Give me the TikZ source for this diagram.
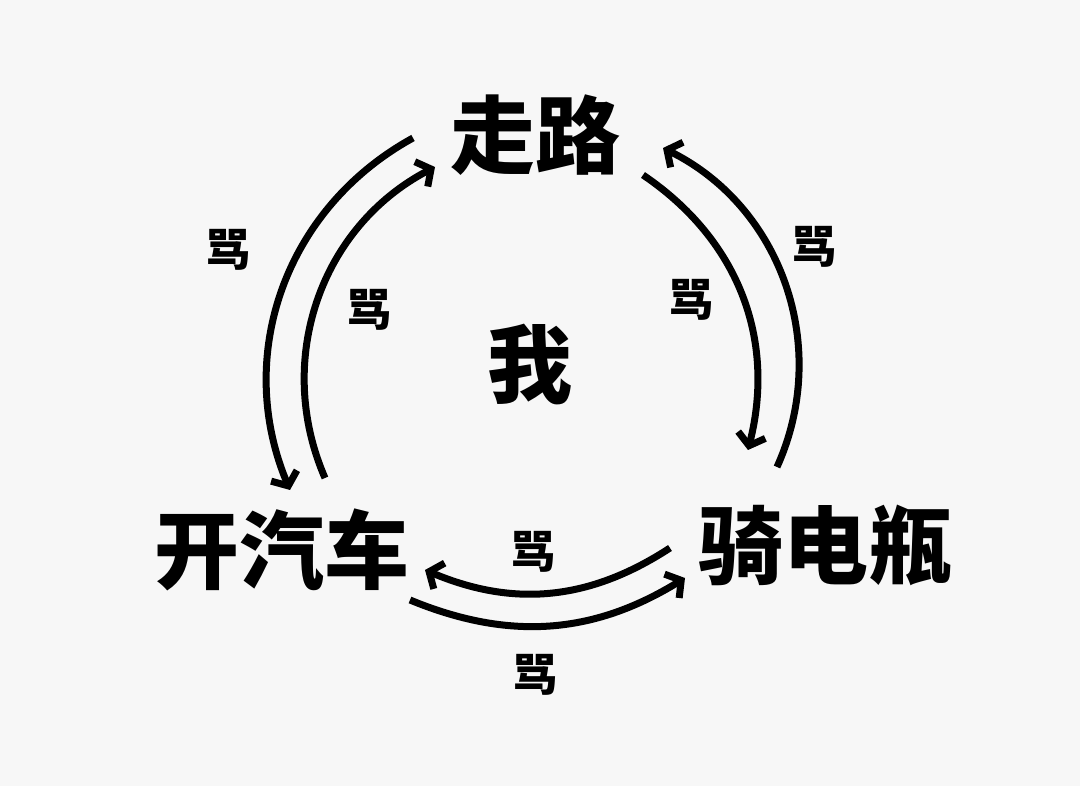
\documentclass[tikz,border=0pt]{standalone}
\usepackage{fontspec}
\newfontfamily\cjk{Noto Sans CJK SC}[BoldFont={Noto Sans CJK SC Black}]
\usetikzlibrary{arrows.meta}
\begin{document}
\begin{tikzpicture}[x=1pt, y=1pt,
      big/.style={font=\cjk\bfseries\fontsize{85}{90}\selectfont, inner sep=0pt},
      ma/.style={font=\cjk\bfseries\fontsize{45}{50}\selectfont, inner sep=0pt},
      arr/.style={-{Straight Barb[length=11pt, width=28pt]}, line width=7pt}]
    \fill[black!3] (0,0) rectangle (1080,786);
    \useasboundingbox (0,0) rectangle (1080,786);
    \node[big] (walk) at (535,651) {走路};
    \node[big] (me) at (530,421) {我};
    \node[big] (car) at (282,236) {开汽车};
    \node[big] (ebike) at (826,241) {骑电瓶};
    \node[ma] (ma1) at (228,536) {骂};
    \node[ma] (ma2) at (369,476) {骂};
    \node[ma] (ma3) at (691,486) {骂};
    \node[ma] (ma4) at (814,539) {骂};
    \node[ma] (ma5) at (533,234) {骂};
    \node[ma] (ma6) at (535,111) {骂};
    \draw[arr] ([shift={(-122,-3)}]walk.center) to[bend right=42] ([shift={(8,60)}]car.center);
    \draw[arr] ([shift={(43,72)}]car.center) to[bend left=43] ([shift={(-100,-32)}]walk.center);
    \draw[arr] ([shift={(-49,78)}]ebike.center) to[bend right=44] ([shift={(128,-13)}]walk.center);
    \draw[arr] ([shift={(108,-40)}]walk.center) to[bend left=35] ([shift={(-78,95)}]ebike.center);
    \draw[arr] ([shift={(-156,-3)}]ebike.center) to[bend left=28] ([shift={(143,-20)}]car.center);
    \draw[arr] ([shift={(128,-50)}]car.center) to[bend right=27] ([shift={(-141,-33)}]ebike.center);
\end{tikzpicture}
\end{document}
